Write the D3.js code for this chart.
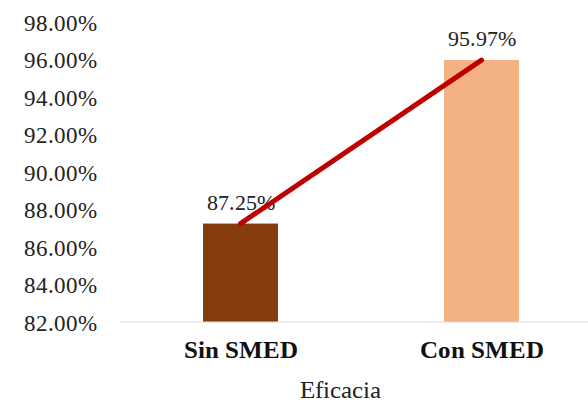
<!DOCTYPE html>
<html>
<head>
<meta charset="utf-8">
<script src="https://cdn.jsdelivr.net/npm/d3@7"></script>
<style>
  @font-face { font-family: 'ChartSerif'; src: local('Liberation Serif'), local('LiberationSerif'); font-weight: normal; }
  @font-face { font-family: 'ChartSerif'; src: local('Liberation Serif Bold'), local('LiberationSerif-Bold'); font-weight: bold; }
</style>
</head>
<body style="margin:0">
<script>
const categories = ['Sin SMED', 'Con SMED'];
const values = [87.25, 95.97];
const barColors = ['#843C0C', '#F4B183'];
const yTicks = [82, 84, 86, 88, 90, 92, 94, 96, 98];
const axisTitle = 'Eficacia';

const width = 588, height = 402;
const families = ['ChartSerif', 'Liberation Serif'];
const fam = () => families.join(', ');

const svg = d3.select('body').append('svg')
    .attr('width', width)
    .attr('height', height);

const x = d3.scaleBand()
    .domain(categories)
    .range([120, 602])
    .paddingInner(0.689)
    .paddingOuter(0.3445);

const y = d3.scaleLinear()
    .domain([82, 98])
    .range([322, 22]);

// y tick labels, no axis line
svg.selectAll('text.tick')
    .data(yTicks)
    .join('text')
    .attr('class', 'tick')
    .attr('font-family', fam)
    .attr('font-size', 22.5)
    .attr('x', 97)
    .attr('y', d => y(d) + 8.5)
    .attr('text-anchor', 'end')
    .attr('fill', '#222')
    .text(d => d.toFixed(2) + '%');

// bars
svg.selectAll('rect.bar')
    .data(values)
    .join('rect')
    .attr('class', 'bar')
    .attr('x', (d, i) => x(categories[i]))
    .attr('y', d => y(d))
    .attr('width', x.bandwidth())
    .attr('height', d => y(82) - y(d))
    .attr('fill', (d, i) => barColors[i]);

// baseline
svg.append('line')
    .attr('x1', 120).attr('x2', width)
    .attr('y1', y(82)).attr('y2', y(82))
    .attr('stroke', '#d9d9d9')
    .attr('stroke-width', 1);

// value labels
svg.selectAll('text.value')
    .data(values)
    .join('text')
    .attr('class', 'value')
    .attr('font-family', fam)
    .attr('font-size', 22)
    .attr('x', (d, i) => x(categories[i]) + x.bandwidth() / 2)
    .attr('y', d => y(d) - 14)
    .attr('text-anchor', 'middle')
    .attr('fill', '#222')
    .text(d => d.toFixed(2) + '%');

// trend line between bar tops
const line = d3.line()
    .x((d, i) => x(categories[i]) + x.bandwidth() / 2)
    .y(d => y(d));

svg.append('path')
    .attr('d', line(values))
    .attr('fill', 'none')
    .attr('stroke', '#C00000')
    .attr('stroke-width', 5)
    .attr('stroke-linecap', 'round');

// category labels
svg.selectAll('text.cat')
    .data(categories)
    .join('text')
    .attr('class', 'cat')
    .attr('font-family', fam)
    .attr('font-size', 25)
    .attr('font-weight', 'bold')
    .attr('x', d => x(d) + x.bandwidth() / 2)
    .attr('y', 358)
    .attr('text-anchor', 'middle')
    .attr('fill', '#111')
    .text(d => d);

// axis title
svg.append('text')
    .attr('font-family', fam)
    .attr('font-size', 24.5)
    .attr('x', 340)
    .attr('y', 398)
    .attr('text-anchor', 'middle')
    .attr('fill', '#222')
    .text(axisTitle);
</script>
</body>
</html>
